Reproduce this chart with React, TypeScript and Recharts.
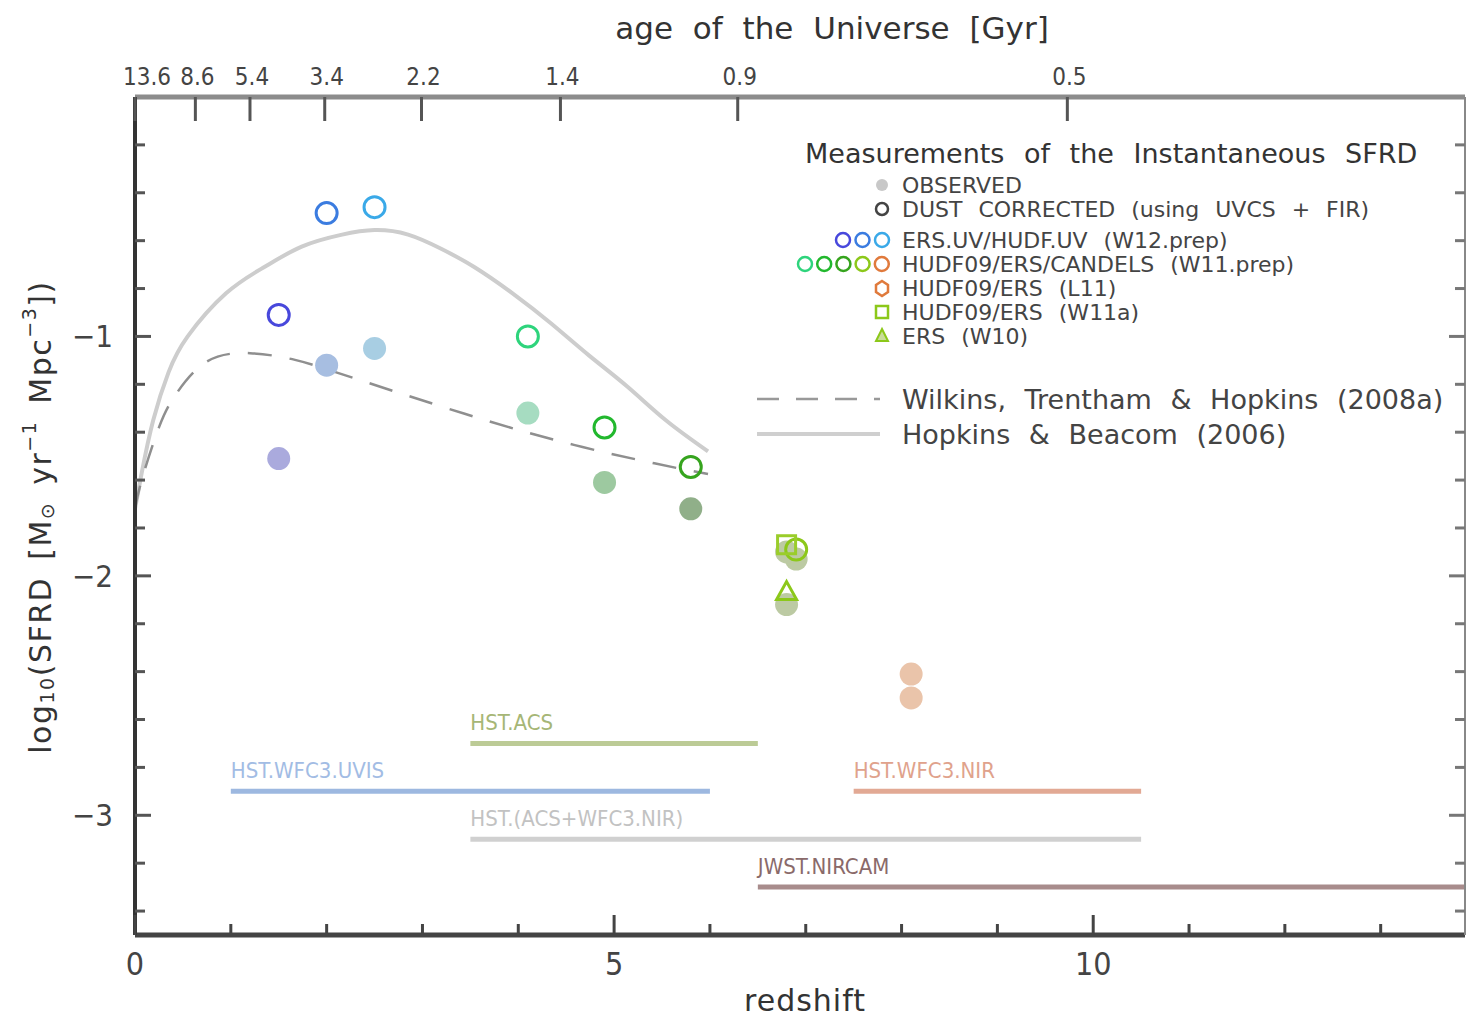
import React from "react";
import { ComposedChart, Legend, Line, Scatter, XAxis, YAxis } from "recharts";

const FONT = "'DejaVu Sans', sans-serif";
const NARROW = "'DejaVu Sans Condensed', 'Liberation Sans Narrow', sans-serif";
const X_MAX = 13.88;

// axes
const Z_TICKS = [0, 1, 2, 3, 4, 5, 6, 7, 8, 9, 10, 11, 12, 13];
const Z_LABELED = [0, 5, 10];
const LOG_TICKS = [-3.4, -3.2, -3, -2.8, -2.6, -2.4, -2.2, -2, -1.8, -1.6, -1.4, -1.2, -1, -0.8, -0.6, -0.4, -0.2];
const AGE_Z = [0, 0.63, 1.2, 1.98, 2.99, 4.44, 6.29, 9.73];
const AGE_LABELS = ["13.6", "8.6", "5.4", "3.4", "2.2", "1.4", "0.9", "0.5"];

// ERS.UV/HUDF.UV (W12.prep)
const W12_Z = [1.5, 2.0, 2.5];
const W12_OBS = [-1.51, -1.12, -1.05];
const W12_DUST = [-0.91, -0.485, -0.46];
const W12_OBS_COLORS = ["#aaaadd", "#a7bee1", "#a8cee3"];
const W12_DUST_COLORS = ["#4848dc", "#3b7ce0", "#3aa9e8"];

// HUDF09/ERS/CANDELS (W11.prep)
const W11P_Z = [4.1, 4.9, 5.8, 6.9, 8.1];
const W11P_OBS = [-1.32, -1.61, -1.72, -1.93, -2.41];
const W11P_DUST = [-1.0, -1.38, -1.545, -1.89];
const W11P_OBS_COLORS = ["#a6dcc1", "#9dc9a0", "#90af89", "#bccaa3", "#eac4aa"];
const W11P_DUST_COLORS = ["#2ed47c", "#22b82e", "#36a41e", "#8cc81a"];

// HUDF09/ERS (L11), HUDF09/ERS (W11a), ERS (W10)
const L11_Z = [8.1];
const L11_OBS = [-2.51];
const W11A_Z = [6.8];
const W11A_OBS = [-1.9];
const W11A_DUST = [-1.87];
const W10_Z = [6.8];
const W10_OBS = [-2.12];
const W10_DUST = [-2.07];

// Hopkins & Beacom (2006)
const HB_Z = [0, 0.07, 0.19, 0.35, 0.55, 0.95, 1.35, 1.74, 2.15, 2.5, 2.85, 3.2, 3.54, 3.94, 4.34, 4.74, 5.14, 5.54, 5.98];
const HB_Y = [-1.72, -1.57, -1.35, -1.15, -1.0, -0.82, -0.71, -0.625, -0.576, -0.556, -0.575, -0.635, -0.71, -0.82, -0.945, -1.08, -1.21, -1.35, -1.48];

// Wilkins, Trentham & Hopkins (2008a)
const WTH_Z = [0, 0.07, 0.25, 0.43, 0.75, 1.2, 1.67, 2.1, 2.82, 3.7, 4.58, 5.42, 5.98];
const WTH_Y = [-1.72, -1.6, -1.38, -1.24, -1.105, -1.07, -1.098, -1.15, -1.244, -1.355, -1.453, -1.53, -1.575];

// instrument redshift coverage
const TEL_NAMES = ["HST.ACS", "HST.WFC3.UVIS", "HST.WFC3.NIR", "HST.(ACS+WFC3.NIR)", "JWST.NIRCAM"];
const TEL_ZMIN = [3.5, 1.0, 7.5, 3.5, 6.5];
const TEL_ZMAX = [6.5, 6.0, 10.5, 10.5, X_MAX];
const TEL_LEVEL = [-2.7, -2.9, -2.9, -3.1, -3.3];
const TEL_BAR_COLORS = ["#bccb96", "#9db8e0", "#e2a994", "#d0d0d0", "#a88c8c"];
const TEL_TEXT_COLORS = ["#a6b676", "#a2bce4", "#e0a28c", "#c2c2c2", "#8a6a6a"];

const pts = (zs: number[], ys: number[]) => ys.map((y, i) => ({ z: zs[i], y }));

const isWhole = (v: number) => Math.abs(v - Math.round(v)) < 1e-6;

function BottomTick(props: any) {
  const { x, y, payload } = props;
  const v = payload.value;
  const major = Z_LABELED.includes(v);
  return (
    <g>
      <line x1={x} x2={x} y1={y} y2={y - (major ? 20 : 11)} stroke="#444" strokeWidth={3} />
      {major && (
        <text x={x} y={y + 29} textAnchor="middle" dominantBaseline="central" fontSize={32} fill="#444" fontFamily={NARROW}>
          {v}
        </text>
      )}
    </g>
  );
}

function LeftTick(props: any) {
  const { x, y, payload } = props;
  const v = payload.value;
  const major = isWhole(v);
  return (
    <g>
      <line x1={x} x2={x + (major ? 16 : 10)} y1={y} y2={y} stroke="#555" strokeWidth={3} />
      {major && (
        <text x={x - 22} y={y} textAnchor="end" dominantBaseline="central" fontSize={31} fill="#444" fontFamily={NARROW}>
          {"\u2212" + Math.abs(Math.round(v))}
        </text>
      )}
    </g>
  );
}

function RightTick(props: any) {
  const { x, y, payload } = props;
  const major = isWhole(payload.value);
  return <line x1={x} x2={x - (major ? 16 : 10)} y1={y} y2={y} stroke="#777" strokeWidth={3} />;
}

function TopTick(props: any) {
  const { x, y, index } = props;
  return (
    <g>
      <line x1={x} x2={x} y1={y} y2={y + 24} stroke="#555" strokeWidth={3} />
      <text x={x + (index === 0 ? 12 : 2)} y={y - 20} textAnchor="middle" dominantBaseline="central" fontSize={24} fill="#444" fontFamily={NARROW}>
        {AGE_LABELS[index]}
      </text>
    </g>
  );
}

function YTitle() {
  return (
    <text
      transform="translate(40, 517) rotate(-90)"
      textAnchor="middle"
      dominantBaseline="central"
      fontSize={30}
      fill="#333"
      fontFamily={FONT}
      letterSpacing={1.5}
      wordSpacing={6}
    >
      log
      <tspan fontSize={19} dy={7}>10</tspan>
      <tspan dy={-7}>(SFRD [M</tspan>
      <tspan fontSize={19} dy={7}>{"\u2299"}</tspan>
      <tspan dy={-7}> yr</tspan>
      <tspan fontSize={19} dy={-11}>{"\u22121"}</tspan>
      <tspan dy={11}> Mpc</tspan>
      <tspan fontSize={19} dy={-11}>{"\u22123"}</tspan>
      <tspan dy={11}>])</tspan>
    </text>
  );
}

function XTitle() {
  return (
    <text x={805} y={1000} textAnchor="middle" dominantBaseline="central" fontSize={30} fill="#333" fontFamily={FONT} letterSpacing={1}>
      redshift
    </text>
  );
}

function TopTitle() {
  return (
    <text x={832} y={28} textAnchor="middle" dominantBaseline="central" fontSize={31} fill="#333" fontFamily={FONT} wordSpacing={10}>
      age of the Universe [Gyr]
    </text>
  );
}

const openCircle = (color: string) => (p: any) => (
  <circle cx={p.cx} cy={p.cy} r={10.5} fill="none" stroke={color} strokeWidth={3} />
);
const filledCircle = (color: string) => (p: any) => <circle cx={p.cx} cy={p.cy} r={11.5} fill={color} />;
const openSquare = (color: string) => (p: any) => (
  <rect x={p.cx - 9} y={p.cy - 9} width={18} height={18} fill="none" stroke={color} strokeWidth={3} />
);
const openTriangle = (color: string) => (p: any) => (
  <polygon points={`${p.cx},${p.cy - 11} ${p.cx + 10},${p.cy + 7} ${p.cx - 10},${p.cy + 7}`} fill="none" stroke={color} strokeWidth={3} />
);
const telLabel = (text: string, color: string) => (p: any) => (
  <text x={p.cx} y={p.cy - 21} dominantBaseline="central" fontSize={22} fill={color} fontFamily={NARROW}>
    {text}
  </text>
);

function LegendBox() {
  const t = { fontFamily: FONT, fill: "#444" } as const;
  const tx = 152;
  return (
    <svg width={716} height={330}>
      <text x={55} y={23} dominantBaseline="central" fontSize={27} fill="#333" fontFamily={FONT} wordSpacing={11}>
        Measurements of the Instantaneous SFRD
      </text>
      <circle cx={132} cy={55} r={6} fill="#c8c8c8" />
      <text x={tx} y={55} dominantBaseline="central" fontSize={22} {...t}>OBSERVED</text>
      <circle cx={132} cy={79} r={6} fill="none" stroke="#444" strokeWidth={2.5} />
      <text x={tx} y={79} dominantBaseline="central" fontSize={22} {...t} wordSpacing={9}>DUST CORRECTED (using UVCS + FIR)</text>
      {W12_DUST_COLORS.map((c, i) => (
        <circle key={c} cx={93 + i * 19.5} cy={110} r={7} fill="none" stroke={c} strokeWidth={2.5} />
      ))}
      <text x={tx} y={110} dominantBaseline="central" fontSize={22} {...t} wordSpacing={9}>ERS.UV/HUDF.UV (W12.prep)</text>
      {["#2ed47c", "#22b82e", "#36a41e", "#8cc81a", "#e07a3c"].map((c, i) => (
        <circle key={c} cx={55 + i * 19.2} cy={134} r={7} fill="none" stroke={c} strokeWidth={2.5} />
      ))}
      <text x={tx} y={134} dominantBaseline="central" fontSize={22} {...t} wordSpacing={9}>HUDF09/ERS/CANDELS (W11.prep)</text>
      <polygon points="132,151 138,155 138,162 132,166 126,162 126,155" fill="none" stroke="#e07a3c" strokeWidth={2.5} />
      <text x={tx} y={158} dominantBaseline="central" fontSize={22} {...t} wordSpacing={9}>HUDF09/ERS (L11)</text>
      <rect x={126} y={176} width={12} height={12} fill="none" stroke="#8cc81a" strokeWidth={2.5} />
      <text x={tx} y={182} dominantBaseline="central" fontSize={22} {...t} wordSpacing={9}>HUDF09/ERS (W11a)</text>
      <polygon points="132,199 138,211 126,211" fill="#c9dc9a" stroke="#8cc81a" strokeWidth={2} />
      <text x={tx} y={206} dominantBaseline="central" fontSize={22} {...t} wordSpacing={9}>ERS (W10)</text>
      <line x1={7} x2={130} y1={269} y2={269} stroke="#999" strokeWidth={2.5} strokeDasharray="22 17" />
      <text x={tx} y={269} dominantBaseline="central" fontSize={27} {...t} wordSpacing={10}>Wilkins, Trentham &amp; Hopkins (2008a)</text>
      <line x1={7} x2={130} y1={304} y2={304} stroke="#cfcfcf" strokeWidth={4} />
      <text x={tx} y={304} dominantBaseline="central" fontSize={27} {...t} wordSpacing={10}>Hopkins &amp; Beacom (2006)</text>
    </svg>
  );
}

export default function App() {
  return (
    <div style={{ position: "absolute", left: 0, top: 0, background: "#fff" }}>
      <ComposedChart width={1466} height={1017} margin={{ top: 57, right: 0, bottom: 32, left: 75 }}>
        <XAxis
          xAxisId={0}
          dataKey="z"
          type="number"
          domain={[0, X_MAX]}
          allowDataOverflow
          ticks={Z_TICKS}
          height={50}
          tickSize={0}
          tickMargin={0}
          tickLine={false}
          interval={0}
          axisLine={{ stroke: "#444", strokeWidth: 5 }}
          tick={BottomTick}
          label={{ content: XTitle }}
        />
        <XAxis
          xAxisId="top"
          orientation="top"
          dataKey="z"
          type="number"
          domain={[0, X_MAX]}
          allowDataOverflow
          ticks={AGE_Z}
          height={40}
          tickSize={0}
          tickMargin={0}
          tickLine={false}
          interval={0}
          axisLine={{ stroke: "#8c8c8c", strokeWidth: 5 }}
          tick={TopTick}
          label={{ content: TopTitle }}
        />
        <YAxis
          yAxisId={0}
          type="number"
          domain={[-3.5, 0]}
          allowDataOverflow
          ticks={LOG_TICKS}
          width={60}
          tickSize={0}
          tickMargin={0}
          tickLine={false}
          interval={0}
          axisLine={{ stroke: "#333", strokeWidth: 4 }}
          tick={LeftTick}
          label={{ content: YTitle }}
        />
        <YAxis
          yAxisId="right"
          orientation="right"
          type="number"
          domain={[-3.5, 0]}
          allowDataOverflow
          ticks={LOG_TICKS}
          width={1}
          tickSize={0}
          tickMargin={0}
          tickLine={false}
          interval={0}
          axisLine={{ stroke: "#888", strokeWidth: 2 }}
          tick={RightTick}
        />

        {TEL_NAMES.map((name, i) => (
          <Line
            key={`bar-${name}`}
            data={[
              { z: TEL_ZMIN[i], y: TEL_LEVEL[i] },
              { z: TEL_ZMAX[i], y: TEL_LEVEL[i] },
            ]}
            dataKey="y"
            type="linear"
            stroke={TEL_BAR_COLORS[i]}
            strokeWidth={5}
            dot={false}
            activeDot={false}
            isAnimationActive={false}
          />
        ))}
        {TEL_NAMES.map((name, i) => (
          <Scatter
            key={`lab-${name}`}
            data={[{ z: TEL_ZMIN[i], y: TEL_LEVEL[i] }]}
            dataKey="y"
            shape={telLabel(name, TEL_TEXT_COLORS[i])}
            isAnimationActive={false}
          />
        ))}

        {pts(W12_Z, W12_OBS).map((d, i) => (
          <Scatter key={`w12o-${i}`} data={[d]} dataKey="y" shape={filledCircle(W12_OBS_COLORS[i])} isAnimationActive={false} />
        ))}
        {pts(W11P_Z, W11P_OBS).map((d, i) => (
          <Scatter key={`w11o-${i}`} data={[d]} dataKey="y" shape={filledCircle(W11P_OBS_COLORS[i])} isAnimationActive={false} />
        ))}
        <Scatter data={pts(L11_Z, L11_OBS)} dataKey="y" shape={filledCircle("#eac4aa")} isAnimationActive={false} />
        <Scatter data={pts(W11A_Z, W11A_OBS)} dataKey="y" shape={filledCircle("#bccaa3")} isAnimationActive={false} />
        <Scatter data={pts(W10_Z, W10_OBS)} dataKey="y" shape={filledCircle("#bccaa3")} isAnimationActive={false} />

        <Line
          data={pts(HB_Z, HB_Y)}
          dataKey="y"
          type="natural"
          stroke="#cdcdcd"
          strokeWidth={4}
          dot={false}
          activeDot={false}
          isAnimationActive={false}
        />
        <Line
          data={pts(WTH_Z, WTH_Y)}
          dataKey="y"
          type="natural"
          stroke="#8f8f8f"
          strokeWidth={2.5}
          strokeDasharray="24 18"
          dot={false}
          activeDot={false}
          isAnimationActive={false}
        />

        {pts(W12_Z, W12_DUST).map((d, i) => (
          <Scatter key={`w12d-${i}`} data={[d]} dataKey="y" shape={openCircle(W12_DUST_COLORS[i])} isAnimationActive={false} />
        ))}
        {pts(W11P_Z, W11P_DUST).map((d, i) => (
          <Scatter key={`w11d-${i}`} data={[d]} dataKey="y" shape={openCircle(W11P_DUST_COLORS[i])} isAnimationActive={false} />
        ))}
        <Scatter data={pts(W11A_Z, W11A_DUST)} dataKey="y" shape={openSquare("#9acd2a")} isAnimationActive={false} />
        <Scatter data={pts(W10_Z, W10_DUST)} dataKey="y" shape={openTriangle("#8cc81a")} isAnimationActive={false} />

        <Legend
          verticalAlign="middle"
          align="center"
          layout="horizontal"
          wrapperStyle={{ left: 750, top: 130, width: 716, height: 330 }}
          content={() => <LegendBox />}
        />
      </ComposedChart>
    </div>
  );
}
